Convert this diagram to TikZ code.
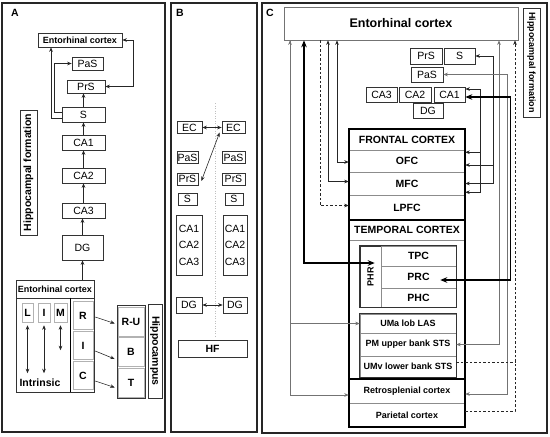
\documentclass[tikz,border=0pt]{standalone}
\usepackage{fontspec}
\setmainfont{Liberation Sans}
\usetikzlibrary{arrows.meta}

\tikzset{
  >={Stealth[length=3pt 2.5,width=2.4pt 2]},
  box/.style={draw=black!80, line width=0.7pt, inner sep=0pt},
  cell/.style={draw=black!30, line width=0.5pt, inner sep=0pt},
  row/.style={draw=black!45, line width=0.5pt, inner sep=0pt, minimum width=116pt},
  grpbox/.style={draw=black!80, line width=0.7pt},
  reg/.style={font=\fontsize{10.5}{12}\selectfont},
  bld/.style={font=\bfseries\fontsize{10.5}{12}\selectfont},
  sml/.style={font=\bfseries\fontsize{9}{10}\selectfont},
  stack/.style={align=center, font=\fontsize{10.5}{16.5}\selectfont},
  panel/.style={draw=black!85, line width=1.3pt},
  link/.style={line width=0.6pt, black!85},
  glink/.style={line width=0.6pt, black!55},
  heavy/.style={line width=1.6pt, black, <->},
  broken/.style={dash pattern=on 2.5pt off 2pt},
}

\begin{document}
\begin{tikzpicture}[x=1pt,y=-1pt]
\useasboundingbox (0,0) rectangle (550,437);

% panels
\draw[panel] (2,3) rectangle (165,432);
\draw[panel] (171,3) rectangle (257,432);
\draw[panel] (262,3) rectangle (547,433);
\node[bld] (labA) at (15,13) {A};
\node[bld] (labB) at (180,13) {B};
\node[bld] (labC) at (270,13) {C};

% panel A
\node[box, sml, minimum width=84pt, minimum height=14pt] (ecA) at (80,40) {Entorhinal cortex};
\node[box, reg, minimum width=31pt, minimum height=13pt] (pasA) at (87.5,63.5) {PaS};
\node[box, reg, minimum width=38pt, minimum height=13pt] (prsA) at (86,86.5) {PrS};
\node[box, reg, minimum width=43pt, minimum height=15pt] (sA) at (83.5,114.5) {S};
\node[box, reg, minimum width=43pt, minimum height=15pt] (ca1A) at (83.5,142.5) {CA1};
\node[box, reg, minimum width=43pt, minimum height=15pt] (ca2A) at (83.5,175.5) {CA2};
\node[box, reg, minimum width=43pt, minimum height=15pt] (ca3A) at (83.5,210.5) {CA3};
\node[box, reg, minimum width=41pt, minimum height=25pt] (dgA) at (82.5,247.5) {DG};
\node[box, bld, rotate=90, minimum width=125pt, minimum height=17pt] (hfA) at (28.5,172.5) {Hippocampal formation};

\node[box, sml, minimum width=78pt, minimum height=18pt] (ecLow) at (55,289) {Entorhinal cortex};
\node[box, minimum width=54pt, minimum height=94pt] (intrA) at (43,345) {};
\node[box, minimum width=24pt, minimum height=94pt] (colA) at (82,345) {};
\draw[line width=1.6pt] (intrA.north east) -- (intrA.south east);
\node[cell, bld, minimum width=11pt, minimum height=19pt] (lA) at (27.5,312.5) {L};
\node[cell, bld, minimum width=12pt, minimum height=19pt] (iA) at (44,312.5) {I};
\node[cell, bld, minimum width=13pt, minimum height=19pt] (mA) at (60.5,312.5) {M};
\node[bld] (intrLbl) at (40,383) {Intrinsic};
\node[cell, bld, minimum width=20pt, minimum height=28pt] (rA) at (83,315.5) {R};
\node[cell, bld, minimum width=20pt, minimum height=28pt] (icA) at (83,345.5) {I};
\node[cell, bld, minimum width=20pt, minimum height=28pt] (cA) at (83,375.5) {C};

\node[box, minimum width=28pt, minimum height=93pt] (hipA) at (131,351.5) {};
\node[cell, bld, minimum width=26pt, minimum height=29pt] (ruA) at (131,321.5) {R-U};
\node[cell, bld, minimum width=26pt, minimum height=29pt] (bA) at (131,352) {B};
\node[cell, bld, minimum width=26pt, minimum height=29pt] (tA) at (131,382.5) {T};
\node[box, bld, rotate=-90, minimum width=94pt, minimum height=14pt] (hipLbl) at (155,351) {Hippocampus};

\draw[->, link] (ecLow.north -| dgA) -- (dgA.south);
\foreach \a/\b in {dgA/ca3A, ca3A/ca2A, ca2A/ca1A, ca1A/sA, sA/prsA}
  \draw[->, link] (\a.north) -- (\a.north |- \b.south);
\draw[->, link] ([yshift=-3.5pt]sA.west) -| ([xshift=-29pt]ecA.south);
\draw[->, link] ([yshift=2.5pt]sA.west) -- ++(-7,0) |- (pasA.west);
\draw[<->, link] (prsA.east) -| ([xshift=11pt]ecA.east) -- (ecA.east);
\draw[<->, link] ([yshift=-3pt]lA.south) -- ++(0,48);
\draw[<->, link] ([yshift=-3pt]iA.south) -- ++(0,48);
\draw[<->, link] ([yshift=-3pt]mA.south) -- ++(0,25);
\draw[->, link] ([xshift=2pt,yshift=-1.5pt]rA.east) -- ([xshift=-3pt,yshift=-2pt]ruA.west);
\draw[->, link] ([xshift=2pt,yshift=-5.5pt]icA.east) -- ([xshift=-3pt,yshift=-7pt]bA.west);
\draw[->, link] ([xshift=2pt,yshift=-5.5pt]cA.east) -- ([xshift=-3pt,yshift=-5pt]tA.west);

% panel B
\draw[black!25, dash pattern=on 1pt off 1.5pt] (215,103) -- (215,338);
\node[box, reg, minimum width=25pt, minimum height=12pt] (ecB1) at (189.5,127.5) {EC};
\node[box, reg, minimum width=23pt, minimum height=12pt] (ecB2) at (233.5,127.5) {EC};
\node[box, reg, minimum width=21pt, minimum height=12pt] (pasB1) at (187.5,157.5) {PaS};
\node[box, reg, minimum width=23pt, minimum height=12pt] (pasB2) at (233.5,157.5) {PaS};
\node[box, reg, minimum width=21pt, minimum height=12pt] (prsB1) at (187.5,179) {PrS};
\node[box, reg, minimum width=23pt, minimum height=12pt] (prsB2) at (233.5,179) {PrS};
\node[box, reg, minimum width=19pt, minimum height=12pt] (sB1) at (187.5,199) {S};
\node[box, reg, minimum width=18pt, minimum height=12pt] (sB2) at (234,199) {S};
\node[box, stack, minimum width=26pt, minimum height=60pt] (caB1) at (189,245) {CA1\\CA2\\CA3};
\node[box, stack, minimum width=24pt, minimum height=60pt] (caB2) at (235,245) {CA1\\CA2\\CA3};
\node[box, reg, minimum width=26pt, minimum height=16pt] (dgB1) at (189,305) {DG};
\node[box, reg, minimum width=24pt, minimum height=16pt] (dgB2) at (235,305) {DG};
\node[box, bld, minimum width=69pt, minimum height=17pt] (hfB) at (212.5,348.5) {HF};
\draw[<->, link] (ecB1) -- (ecB2);
\draw[<->, link] ([xshift=3pt,yshift=-2pt]prsB1.east) -- ([xshift=-2pt,yshift=-5pt]ecB2.west);
\draw[<->, link] (dgB1) -- (dgB2);

% panel C
\node[box, draw=black!55, font=\bfseries\fontsize{12.5}{14}\selectfont, minimum width=234pt, minimum height=33pt] (ecC) at (401,23.5) {Entorhinal cortex};
\node[box, sml, rotate=-90, minimum width=109pt, minimum height=17pt] (hfC) at (531.5,62.5) {Hippocampal formation};
\node[box, reg, minimum width=32pt, minimum height=16pt] (prsC) at (426,56) {PrS};
\node[box, reg, minimum width=31pt, minimum height=16pt] (sC) at (459.5,56) {S};
\node[box, reg, minimum width=32pt, minimum height=15pt] (pasC) at (427,74.5) {PaS};
\node[box, reg, minimum width=31pt, minimum height=15pt] (ca3C) at (381.5,94.5) {CA3};
\node[box, reg, minimum width=32pt, minimum height=15pt] (ca2C) at (415,94.5) {CA2};
\node[box, reg, minimum width=31pt, minimum height=15pt] (ca1C) at (449.5,94.5) {CA1};
\node[box, reg, minimum width=30pt, minimum height=15pt] (dgC) at (428,110.5) {DG};

\node[row, bld, minimum height=21pt] (frontT) at (407,139.5) {FRONTAL CORTEX};
\node[row, bld, minimum height=22pt] (ofc) at (407,161) {OFC};
\node[row, bld, minimum height=23pt] (mfc) at (407,183.5) {MFC};
\node[row, bld, minimum height=25pt] (lpfc) at (407,207.5) {LPFC};
\node[row, bld, minimum height=20pt] (tempT) at (407,230) {TEMPORAL CORTEX};
\node[box, sml, rotate=90, minimum width=61pt, minimum height=21pt] (phr) at (370.5,276.5) {PHR};
\node[row, bld, minimum width=75pt, minimum height=20pt] (tpc) at (418.5,256) {TPC};
\node[row, bld, minimum width=75pt, minimum height=22pt] (prc) at (418.5,277) {PRC};
\node[row, bld, minimum width=75pt, minimum height=19pt] (phc) at (418.5,297.5) {PHC};
\draw[grpbox] (phr.north east) rectangle (phc.south east);
\node[row, sml, minimum width=96pt, minimum height=19pt] (uma) at (408,323.5) {UMa lob LAS};
\node[row, sml, minimum width=96pt, minimum height=23pt] (pm) at (408,344.5) {PM upper bank STS};
\node[row, sml, minimum width=96pt, minimum height=21pt] (umv) at (408,366.5) {UMv lower bank STS};
\draw[grpbox] (uma.north west) rectangle (umv.south east);
\node[row, sml, minimum height=24pt] (retro) at (407,391) {Retrosplenial cortex};
\node[row, sml, minimum height=24pt] (parietal) at (407,415) {Parietal cortex};
\draw[line width=1.6pt] (frontT.north west) rectangle (lpfc.south east);
\draw[line width=1.6pt] (tempT.north west) rectangle (retro.north east);
\draw[line width=1.6pt] (retro.north west) rectangle (parietal.south east);

\coordinate (laneA) at (290,0);
\coordinate (laneB) at (304,0);
\coordinate (laneC) at (320,0);
\coordinate (laneD) at (328,0);
\coordinate (laneE) at (337,0);
\coordinate (laneH) at (499,0);
\coordinate (laneI) at (507,0);
\coordinate (laneK) at (515,0);

\draw[<->, glink] (ecC.south -| laneA) |- (uma.west);
\draw[->, glink] (ecC.south -| laneA) |- ([yshift=-4pt]retro.west);
\draw[heavy] (ecC.south -| laneB) |- ([xshift=-6pt,yshift=-7pt]tpc.west);
\draw[->, link, broken] (ecC.south -| laneC) |- ([yshift=2pt]lpfc.west);
\draw[<->, link] (ecC.south -| laneD) |- ([yshift=2pt]mfc.west);
\draw[<->, link] (ecC.south -| laneE) |- ([yshift=-1pt]ofc.west);

\draw[<->, link] ([yshift=5.5pt]ca1C.east) -- ++(15,0) |- ([yshift=3pt]mfc.south east);
\draw[->, link] ([xshift=15pt,yshift=-2pt]frontT.south east) -- ([yshift=-2pt]frontT.south east);
\draw[<->, link] (sC.east) -- ++(18,0) |- (mfc.east);
\draw[->, link] ([xshift=28pt,yshift=-4pt]ofc.east) -- ([yshift=-4pt]ofc.east);
\draw[<->, glink] (ecC.south -| laneH) |- (pm.east);
\draw[<->, glink] (pasC.east) -- (pasC.east -| laneI) |- ([yshift=-3pt]retro.east);
\draw[heavy] ([yshift=-2.5pt]ca1C.east) -- ++(45,0) |- ([xshift=-16pt,yshift=-3pt]prc.east);
\draw[->, link, broken] ([yshift=4pt]parietal.east) -| (ecC.south -| laneK);
\draw[link, broken] ([yshift=4.5pt]umv.east) -- ++(59,0);
\end{tikzpicture}
\end{document}
